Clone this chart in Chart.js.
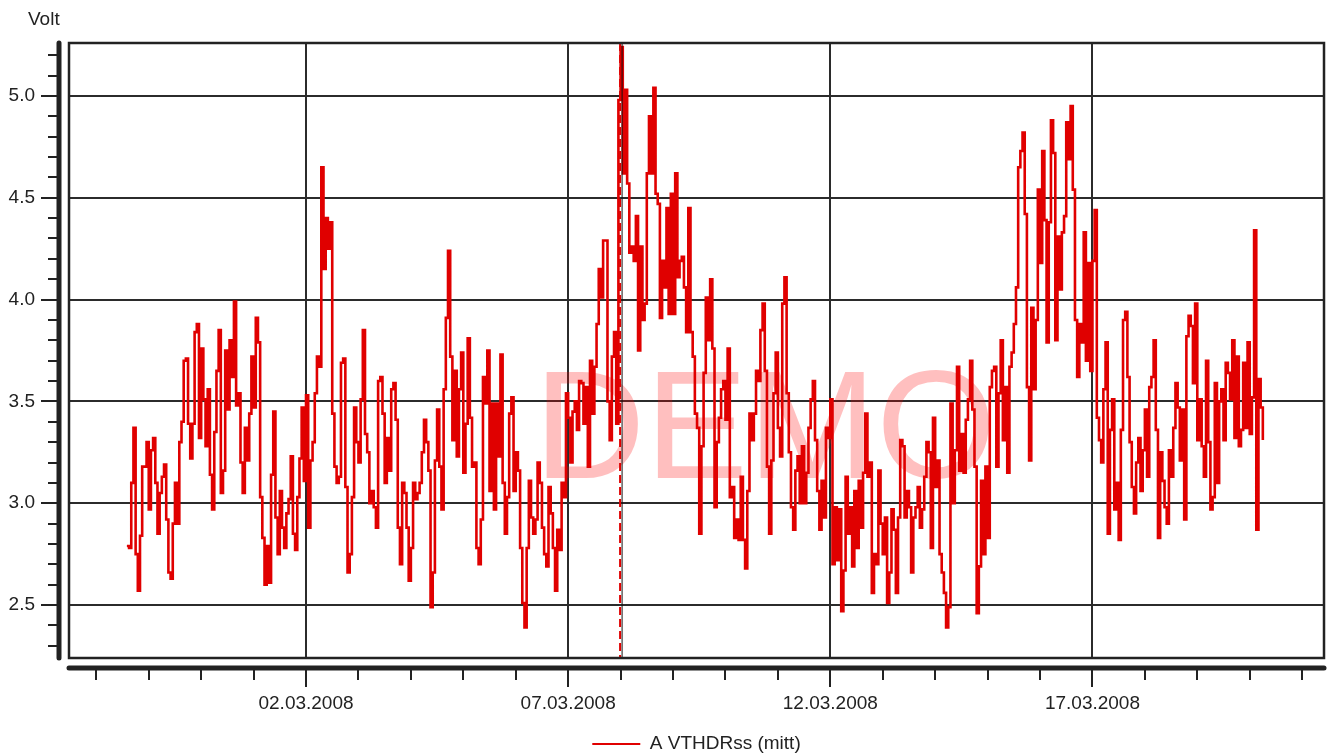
<!DOCTYPE html>
<html>
<head>
<meta charset="utf-8">
<script src="https://cdn.jsdelivr.net/npm/chart.js@4.4.1/dist/chart.umd.min.js"></script>
<style>
    html, body { margin: 0; padding: 0; background: #fff; }
    #wrap { width: 1332px; height: 756px; }
</style>
</head>
<body>
<div id="wrap"><canvas id="thd-chart" width="1332" height="756"></canvas></div>
<script>
// A VTHDRss (mitt), hourly values in volt, first sample 27.02.2008 14:00
const startTime = Date.UTC(2008, 1, 27, 14, 0);
const stepMs = 3600000;

const vthdPart1 = [
    2.79,2.78,3.10,3.37,2.75,2.57,2.84,3.18,3.18,3.30,
    2.97,3.26,3.32,3.10,2.85,3.05,3.13,3.19,2.92,2.66,
    2.63,2.90,3.10,2.90,3.30,3.40,3.70,3.71,3.39,3.22,
    3.39,3.84,3.88,3.32,3.76,3.51,3.28,3.56,3.14,2.97,
    3.35,3.65,3.85,3.05,3.16,3.75,3.46,3.80,3.62,3.99,
    3.48,3.54,3.20,3.05,3.37,3.21,3.44,3.72,3.47,3.91,
    3.79,3.03,2.83,2.60,2.79,2.61,3.14,3.45,2.93,2.75,
    3.06,2.88,2.78,2.95,3.02,3.23,2.85,2.77,3.03,3.22,
    3.47,3.11,3.53,2.88,3.21,3.30,3.54,3.72,3.67,4.65,
    4.15,4.40,4.25
];

const vthdPart2 = [
    4.38,
    3.44,3.18,3.10, 3.13,3.69,3.71, 3.08,2.66,2.75, 3.03,3.47,3.30,
    3.20,3.51,3.85, 3.34,3.25,3.00, 3.06,2.98,2.88, 3.60,3.62,3.44,
    3.10,3.32,3.16, 3.56,3.59,3.41, 2.88,2.70,3.10, 3.05,2.88,2.62,
    2.78,3.10,3.02, 3.05,3.10,3.25, 3.41,3.30,3.16, 2.49,2.66,3.21,
    3.46,3.18,2.97, 3.56,3.91,4.24, 3.72,3.31,3.65, 3.23,3.56,3.74,
    3.15,3.39,3.81, 3.42,3.18,3.20, 2.78,2.70,2.92, 3.62,3.49,3.75,
    3.06,3.49,2.97, 3.49,3.23,3.73, 3.10,2.85,3.03, 3.44,3.52,3.06,
    3.25,3.16,2.78, 2.51,2.39,2.78, 3.11,2.93,2.85, 2.92,3.20,3.10,
    2.88,2.75,2.69, 3.08,2.95,2.78, 2.57,2.87,2.77, 3.10,3.03,3.54,
    3.42,3.20,3.45, 3.50,3.36
];

const vthdPart3 = [
    3.60,3.59,3.39,3.57,3.18,3.70,3.44,3.67,3.88,4.15,
    4.01,4.29,4.29,3.50,3.31,3.72,3.84,3.39,4.98,5.24,
    4.62,5.03,4.57,4.23,4.26,4.19,4.41,3.75,4.26,3.90,
    3.98,4.62,4.90,4.62,5.04,4.52,4.47,3.91,4.19,4.06,
    4.45,3.93,4.52,3.93,4.62,4.11,4.19,4.21,4.06,3.84,
    4.45,3.84,3.72,3.44,3.37
];

const vthdPart4 = [
    2.85,3.28,3.64, 4.01,3.80,4.10, 3.76,2.98,3.30, 3.42,3.56,3.60,
    3.41,3.76,3.03, 3.08,2.83,2.92, 2.82,3.13,2.82, 2.68,3.06,3.44,
    3.31,3.44,3.65, 3.60,3.85,3.98, 3.65,3.18,2.85, 3.21,3.54,3.74,
    3.37,3.23,3.98, 4.11,3.54,3.25, 2.98,2.87,3.16, 3.23,3.00,3.28,
    3.00,3.15,3.37, 3.51,3.60,3.31, 3.06,2.87,3.11, 2.93,3.37,3.32,
    3.51,2.70,2.98, 2.72,2.97,2.47, 2.67,3.13,2.85, 2.98,2.69,3.06,
    2.78,3.11,2.88, 3.15,3.44,3.13, 3.20,2.56,2.75, 2.70,3.16,2.90,
    2.75,2.93,2.51, 2.66,2.97,2.87, 2.56,2.93,3.31, 3.28,2.93,3.06,
    2.98,2.66,2.93, 2.98,3.08,2.88, 2.97,3.13,3.30, 3.25,2.78,3.42,
    3.08,3.21,2.75, 2.66,2.56,2.39, 2.49,3.49,3.00, 3.26,3.67,3.16,
    3.34,3.15,3.41, 3.51,3.70,3.46, 3.18,2.46,2.69, 3.11,2.75,3.18,
    2.83,3.57,3.65, 3.67,3.18,3.54, 3.80,3.31,3.57, 3.15,3.67,3.74,
    3.88,4.06,4.65, 4.73,4.82,4.42, 3.57,3.21,3.96, 3.56,3.90,4.54,
    4.18,4.73,4.39, 3.79,4.38,4.88, 4.72,3.80,4.31, 4.05,4.33,4.41,
    4.87,4.69,4.95, 4.54,3.90,3.62, 3.88,3.79,4.33, 3.70,4.18,3.65,
    4.19,4.44,3.42, 3.31,3.20,3.56, 3.79,2.85,3.36, 3.51,2.97,3.10,
    2.82,3.36,3.90, 3.94,3.62,3.30, 3.08,2.95,3.20, 3.32,3.06,3.26,
    3.46,3.13,3.57, 3.62,3.80,3.36, 2.83,3.25,3.11, 2.98,2.90,3.26,
    3.13,3.37,3.59, 3.47,3.21,3.46, 2.92,3.82,3.92, 3.87,3.59,3.98,
    3.31,3.51,3.28, 3.13,3.70,3.30, 2.97,3.03,3.59, 3.10,3.50,3.56,
    3.31,3.69,3.64, 3.51,3.80,3.32, 3.72,3.28,3.36, 3.69,3.37,3.79,
    3.34,3.52,4.34, 2.87,3.61,3.47, 3.31
];

const majorVolts = [2.5, 3.0, 3.5, 4.0, 4.5, 5.0];
const xTickLabels = ['02.03.2008', '07.03.2008', '12.03.2008', '17.03.2008'];
const cursorTime = Date.UTC(2008, 2, 8, 0, 0);

const xMin = Date.UTC(2008, 1, 26, 11, 30);
const xMax = Date.UTC(2008, 2, 21, 10, 0);
const yMin = 2.24;
const yMax = 5.26;

const volts = [].concat(vthdPart1, vthdPart2, vthdPart3, vthdPart4);
const points = volts.map((v, i) => ({ x: startTime + i * stepMs, y: v }));

function fmtDate(ms) {
    const d = new Date(ms);
    const dd = String(d.getUTCDate()).padStart(2, '0');
    const mm = String(d.getUTCMonth() + 1).padStart(2, '0');
    return dd + '.' + mm + '.' + d.getUTCFullYear();
}
function isMajorX(v) { return xTickLabels.indexOf(fmtDate(v)) >= 0; }
function isMajorY(v) { return majorVolts.some(m => Math.abs(m - v) < 1e-6); }

// no label overflow padding, the plot box is fixed
function noEdgePadding(scale) {
    scale.paddingTop = 0;
    scale.paddingBottom = 0;
    scale.paddingLeft = 0;
    scale.paddingRight = 0;
}

const gridColor = '#2b2b2b';
const inkColor = '#222';
const fontFamily = '"Liberation Sans", Arial, sans-serif';

const frameAxes = {
    id: 'frameAxes',
    beforeDatasetsDraw(chart) {
        const { ctx, chartArea: a } = chart;
        ctx.save();
        ctx.beginPath();
        ctx.rect(a.left, a.top, a.right - a.left, a.bottom - a.top);
        ctx.clip();
        ctx.font = '154px ' + fontFamily;
        ctx.fillStyle = 'rgba(255, 0, 0, 0.25)';
        ctx.textAlign = 'center';
        ctx.textBaseline = 'alphabetic';
        ctx.fillText('DEMO', 765, 478);
        ctx.restore();
    },
    afterDatasetsDraw(chart) {
        const { ctx, chartArea: a, scales: { x } } = chart;
        const px = x.getPixelForValue(cursorTime);
        ctx.save();
        ctx.lineWidth = 1;
        ctx.strokeStyle = '#111';
        ctx.beginPath();
        ctx.moveTo(px + 1.5, a.top);
        ctx.lineTo(px + 1.5, a.bottom);
        ctx.stroke();
        ctx.lineWidth = 2;
        ctx.strokeStyle = '#e00000';
        ctx.setLineDash([8, 4]);
        ctx.beginPath();
        ctx.moveTo(px - 0.5, a.top);
        ctx.lineTo(px - 0.5, a.bottom);
        ctx.stroke();
        ctx.setLineDash([]);
        // plot frame
        ctx.lineWidth = 2.5;
        ctx.strokeStyle = inkColor;
        ctx.strokeRect(a.left, a.top, a.right - a.left, a.bottom - a.top);
        ctx.restore();
    },
    afterDraw(chart) {
        const { ctx, chartArea: a, scales: { x, y } } = chart;
        const ax = a.left - 10;
        const ay = a.bottom + 10;
        ctx.save();
        ctx.strokeStyle = inkColor;
        ctx.lineCap = 'round';
        ctx.lineWidth = 5;
        ctx.beginPath();
        ctx.moveTo(ax, a.top);
        ctx.lineTo(ax, a.bottom);
        ctx.stroke();
        ctx.beginPath();
        ctx.moveTo(a.left, ay);
        ctx.lineTo(a.right, ay);
        ctx.stroke();

        ctx.lineCap = 'butt';
        ctx.lineWidth = 2;
        y.ticks.forEach(t => {
            const py = Math.round(y.getPixelForValue(t.value));
            const len = isMajorY(t.value) ? 18 : 11;
            ctx.beginPath();
            ctx.moveTo(ax, py);
            ctx.lineTo(ax - len, py);
            ctx.stroke();
        });
        x.ticks.forEach(t => {
            const px = Math.round(x.getPixelForValue(t.value));
            const len = isMajorX(t.value) ? 19 : 12;
            ctx.beginPath();
            ctx.moveTo(px, ay);
            ctx.lineTo(px, ay + len);
            ctx.stroke();
        });

        ctx.fillStyle = inkColor;
        ctx.font = '19px ' + fontFamily;
        ctx.textAlign = 'left';
        ctx.textBaseline = 'alphabetic';
        ctx.fillText('Volt', 28, 25);
        ctx.restore();
    }
};

Chart.defaults.font.family = fontFamily;
Chart.defaults.color = inkColor;

const chartCtx = document.getElementById('thd-chart').getContext('2d');

new Chart(chartCtx, {
    type: 'line',
    data: {
        datasets: [{
            label: 'A VTHDRss (mitt)',
            data: points,
            borderColor: '#e00000',
            backgroundColor: '#e00000',
            borderWidth: 2.6,
            pointRadius: 0,
            stepped: true,
            fill: false
        }]
    },
    options: {
        responsive: false,
        animation: false,
        events: [],
        layout: {
            padding: { left: 0, right: 8, top: 43, bottom: -7.5 }
        },
        plugins: {
            legend: {
                position: 'bottom',
                fullSize: false,
                labels: {
                    boxWidth: 48,
                    boxHeight: 2,
                    padding: 10,
                    color: inkColor,
                    font: { size: 19 },
                    generateLabels(chart) {
                        const items = Chart.defaults.plugins.legend.labels.generateLabels(chart);
                        items.forEach(it => { it.lineWidth = 0; it.fillStyle = '#e00000'; });
                        return items;
                    }
                }
            },
            tooltip: { enabled: false }
        },
        scales: {
            x: {
                type: 'linear',
                min: xMin,
                max: xMax,
                afterBuildTicks(scale) {
                    const ticks = [];
                    for (let d = Date.UTC(2008, 1, 27); d <= xMax; d += 86400000) {
                        ticks.push({ value: d });
                    }
                    scale.ticks = ticks;
                },
                afterFit(scale) {
                    scale.height = 66.5;
                    noEdgePadding(scale);
                },
                border: { display: false },
                grid: {
                    drawTicks: false,
                    lineWidth: 2,
                    color: c => (c.tick && isMajorX(c.tick.value)) ? gridColor : 'rgba(0,0,0,0)'
                },
                ticks: {
                    autoSkip: false,
                    maxRotation: 0,
                    padding: 34,
                    font: { size: 19 },
                    color: inkColor,
                    callback: v => isMajorX(v) ? fmtDate(v) : ''
                }
            },
            y: {
                min: yMin,
                max: yMax,
                afterBuildTicks(scale) {
                    const ticks = [];
                    for (let k = 23; k <= 52; k++) ticks.push({ value: k / 10 });
                    scale.ticks = ticks;
                },
                afterFit(scale) {
                    scale.width = 69;
                    noEdgePadding(scale);
                },
                border: { display: false },
                grid: {
                    drawTicks: false,
                    lineWidth: 2,
                    color: c => (c.tick && isMajorY(c.tick.value)) ? gridColor : 'rgba(0,0,0,0)'
                },
                ticks: {
                    autoSkip: false,
                    padding: 34,
                    font: { size: 19 },
                    color: inkColor,
                    callback: v => isMajorY(v) ? v.toFixed(1) : ''
                }
            }
        }
    },
    plugins: [frameAxes]
});
</script>
</body>
</html>
